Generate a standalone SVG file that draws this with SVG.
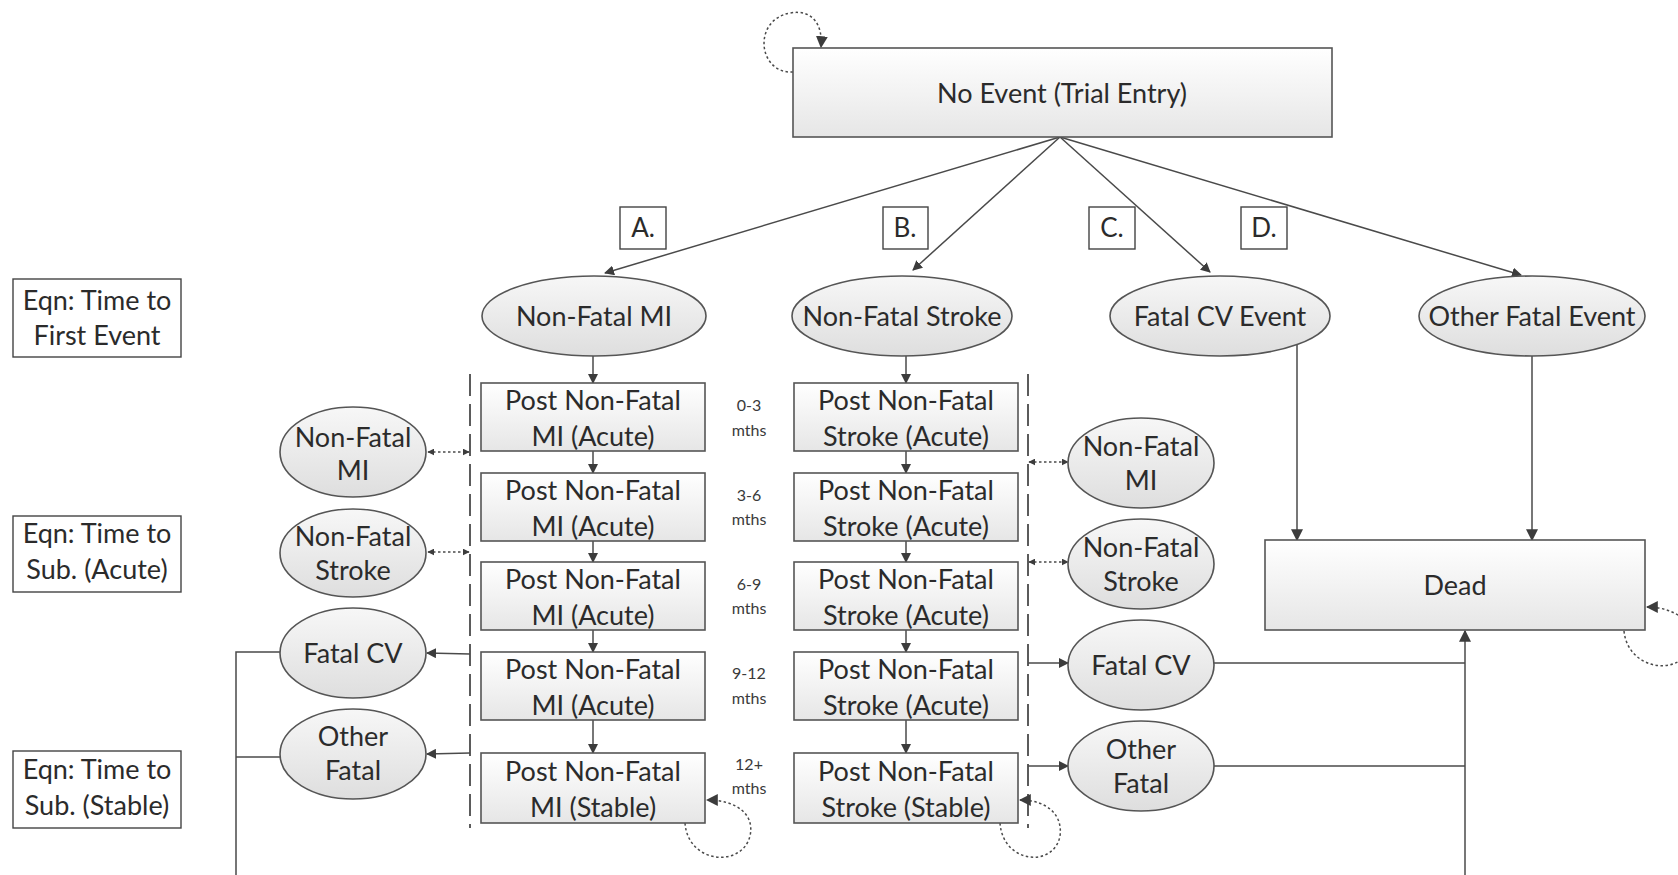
<svg xmlns="http://www.w3.org/2000/svg" width="1678" height="875" viewBox="0 0 1678 875">
<defs>
<linearGradient id="gBox" x1="0" y1="0" x2="0" y2="1"><stop offset="0" stop-color="#ffffff"/><stop offset="1" stop-color="#e6e6e6"/></linearGradient>
<linearGradient id="gEll" x1="0" y1="0" x2="0" y2="1"><stop offset="0" stop-color="#f7f7f7"/><stop offset="1" stop-color="#dedede"/></linearGradient>
<marker id="ar" viewBox="0 0 10 10" refX="9" refY="5" markerWidth="10" markerHeight="10" markerUnits="userSpaceOnUse" orient="auto"><path d="M0,0 L10,5 L0,10 z" fill="#3c3c3c"/></marker>
<marker id="ar2" viewBox="0 0 10 10" refX="9" refY="5" markerWidth="12" markerHeight="12" markerUnits="userSpaceOnUse" orient="auto"><path d="M0,0 L10,5 L0,10 z" fill="#3c3c3c"/></marker>
<marker id="as" viewBox="0 0 10 10" refX="9" refY="5" markerWidth="7" markerHeight="7" markerUnits="userSpaceOnUse" orient="auto-start-reverse"><path d="M0,0 L10,5 L0,10 z" fill="#3c3c3c"/></marker>
</defs>
<style>
.box{fill:url(#gBox);stroke:#555;stroke-width:1.6}
.ell{fill:url(#gEll);stroke:#555;stroke-width:1.6}
.lbl{fill:#fff;stroke:#444;stroke-width:1.4}
.t{font-family:Lato,"Liberation Sans",sans-serif;font-size:27px;fill:#2b2b2b;text-anchor:middle}
.tl{font-family:Lato,"Liberation Sans",sans-serif;font-size:26px;fill:#2b2b2b;text-anchor:middle}
.m{font-family:Lato,"Liberation Sans",sans-serif;font-size:16px;fill:#3a3a3a;text-anchor:middle}
.ln{fill:none;stroke:#4a4a4a;stroke-width:1.5}
.dot{fill:none;stroke:#4a4a4a;stroke-width:1.5;stroke-dasharray:2.5,2.5}
.dsh{fill:none;stroke:#4a4a4a;stroke-width:1.8;stroke-dasharray:22,8}
</style>
<rect width="1678" height="875" fill="#fff"/>

<g id="connectors">
<path class="ln" d="M1060,137 L605,273" marker-end="url(#ar)"/>
<path class="ln" d="M1060,137 L913,270" marker-end="url(#ar)"/>
<path class="ln" d="M1060,137 L1210,272" marker-end="url(#ar)"/>
<path class="ln" d="M1060,137 L1521,275" marker-end="url(#ar)"/>
<path class="ln" d="M593,356 L593,383" marker-end="url(#ar)"/>
<path class="ln" d="M906,356 L906,383" marker-end="url(#ar)"/>
<path class="ln" d="M593,451 L593,473" marker-end="url(#ar)"/>
<path class="ln" d="M593,541 L593,562" marker-end="url(#ar)"/>
<path class="ln" d="M593,630 L593,652" marker-end="url(#ar)"/>
<path class="ln" d="M593,720 L593,753" marker-end="url(#ar)"/>
<path class="ln" d="M906,451 L906,473" marker-end="url(#ar)"/>
<path class="ln" d="M906,541 L906,562" marker-end="url(#ar)"/>
<path class="ln" d="M906,630 L906,652" marker-end="url(#ar)"/>
<path class="ln" d="M906,720 L906,753" marker-end="url(#ar)"/>
<path class="dsh" d="M470,374 L470,828"/>
<path class="dsh" d="M1028,374 L1028,828"/>
<path class="dot" d="M428,452 L469,452" marker-start="url(#as)" marker-end="url(#as)"/>
<path class="dot" d="M428,552 L469,552" marker-start="url(#as)" marker-end="url(#as)"/>
<path class="ln" d="M470,654 L427,653" marker-end="url(#ar)"/>
<path class="ln" d="M470,753 L427,754" marker-end="url(#ar)"/>
<path class="dot" d="M1029,462 L1068,462" marker-start="url(#as)" marker-end="url(#as)"/>
<path class="dot" d="M1029,562 L1068,562" marker-start="url(#as)" marker-end="url(#as)"/>
<path class="ln" d="M1028,663 L1068,663" marker-end="url(#ar)"/>
<path class="ln" d="M1028,766 L1068,766" marker-end="url(#ar)"/>
<path class="ln" d="M280,652 L236,652 L236,875"/>
<path class="ln" d="M280,757 L236,757"/>
<path class="ln" d="M1214,663 L1465,663"/>
<path class="ln" d="M1214,766 L1465,766"/>
<path class="ln" d="M1465,875 L1465,631" marker-end="url(#ar2)"/>
<path class="ln" d="M1297,345 L1297,540" marker-end="url(#ar2)"/>
<path class="ln" d="M1532,356 L1532,540" marker-end="url(#ar2)"/>
<path class="dot" d="M793,72 C758,74 752,20 790,13 C812,9 823,24 821,47" marker-end="url(#ar2)"/>
<path class="dot" d="M685,823 C688,864 742,868 750,836 C755,814 736,800 707,800" marker-end="url(#ar2)"/>
<path class="dot" d="M1000,823 C1003,864 1054,868 1060,836 C1063,814 1046,800 1020,800" marker-end="url(#ar2)"/>
<path class="dot" d="M1624,631 C1628,672 1685,678 1692,642 C1694,620 1672,607 1647,607" marker-end="url(#ar2)"/>
</g>

<g id="no-event"><rect class="box" x="793" y="48" width="539" height="89"/><text class="t" x="1062" y="103">No Event (Trial Entry)</text></g>

<g id="label-a"><rect class="lbl" x="620" y="207" width="46" height="42"/><text class="tl" x="643" y="237">A.</text></g>
<g id="label-b"><rect class="lbl" x="883" y="207" width="45" height="42"/><text class="tl" x="905" y="237">B.</text></g>
<g id="label-c"><rect class="lbl" x="1089" y="207" width="46" height="42"/><text class="tl" x="1112" y="237">C.</text></g>
<g id="label-d"><rect class="lbl" x="1241" y="207" width="46" height="42"/><text class="tl" x="1264" y="237">D.</text></g>

<g id="ell-nfmi"><ellipse class="ell" cx="594" cy="316" rx="112" ry="40"/><text class="t" x="594" y="326">Non-Fatal MI</text></g>
<g id="ell-nfstroke"><ellipse class="ell" cx="902" cy="316" rx="110" ry="40"/><text class="t" x="902" y="326">Non-Fatal Stroke</text></g>
<g id="ell-fcv"><ellipse class="ell" cx="1220" cy="316" rx="110" ry="40"/><text class="t" x="1220" y="326">Fatal CV Event</text></g>
<g id="ell-ofe"><ellipse class="ell" cx="1532" cy="316" rx="113" ry="40"/><text class="t" x="1532" y="326">Other Fatal Event</text></g>

<g id="eqn-first"><rect class="lbl" x="13" y="279" width="168" height="78"/><text class="t" x="97" y="310">Eqn: Time to</text><text class="t" x="97" y="345">First Event</text></g>
<g id="eqn-acute"><rect class="lbl" x="13" y="516" width="168" height="76"/><text class="t" x="97" y="543">Eqn: Time to</text><text class="t" x="97" y="579">Sub. (Acute)</text></g>
<g id="eqn-stable"><rect class="lbl" x="13" y="751" width="168" height="77"/><text class="t" x="97" y="779">Eqn: Time to</text><text class="t" x="97" y="815">Sub. (Stable)</text></g>

<g id="mi-1"><rect class="box" x="481" y="383" width="224" height="68"/><text class="t" x="593" y="410">Post Non-Fatal</text><text class="t" x="593" y="446">MI (Acute)</text></g>
<g id="mi-2"><rect class="box" x="481" y="473" width="224" height="68"/><text class="t" x="593" y="500">Post Non-Fatal</text><text class="t" x="593" y="536">MI (Acute)</text></g>
<g id="mi-3"><rect class="box" x="481" y="562" width="224" height="68"/><text class="t" x="593" y="589">Post Non-Fatal</text><text class="t" x="593" y="625">MI (Acute)</text></g>
<g id="mi-4"><rect class="box" x="481" y="652" width="224" height="68"/><text class="t" x="593" y="679">Post Non-Fatal</text><text class="t" x="593" y="715">MI (Acute)</text></g>
<g id="mi-5"><rect class="box" x="481" y="753" width="224" height="70"/><text class="t" x="593" y="781">Post Non-Fatal</text><text class="t" x="593" y="817">MI (Stable)</text></g>

<g id="st-1"><rect class="box" x="794" y="383" width="224" height="68"/><text class="t" x="906" y="410">Post Non-Fatal</text><text class="t" x="906" y="446">Stroke (Acute)</text></g>
<g id="st-2"><rect class="box" x="794" y="473" width="224" height="68"/><text class="t" x="906" y="500">Post Non-Fatal</text><text class="t" x="906" y="536">Stroke (Acute)</text></g>
<g id="st-3"><rect class="box" x="794" y="562" width="224" height="68"/><text class="t" x="906" y="589">Post Non-Fatal</text><text class="t" x="906" y="625">Stroke (Acute)</text></g>
<g id="st-4"><rect class="box" x="794" y="652" width="224" height="68"/><text class="t" x="906" y="679">Post Non-Fatal</text><text class="t" x="906" y="715">Stroke (Acute)</text></g>
<g id="st-5"><rect class="box" x="794" y="753" width="224" height="70"/><text class="t" x="906" y="781">Post Non-Fatal</text><text class="t" x="906" y="817">Stroke (Stable)</text></g>

<g id="months">
<text class="m" x="749" y="411">0-3</text><text class="m" x="749" y="436">mths</text>
<text class="m" x="749" y="501">3-6</text><text class="m" x="749" y="525">mths</text>
<text class="m" x="749" y="590">6-9</text><text class="m" x="749" y="614">mths</text>
<text class="m" x="749" y="679">9-12</text><text class="m" x="749" y="704">mths</text>
<text class="m" x="749" y="770">12+</text><text class="m" x="749" y="794">mths</text>
</g>

<g id="l-nfmi"><ellipse class="ell" cx="353" cy="452" rx="73" ry="45"/><text class="t" x="353" y="447">Non-Fatal</text><text class="t" x="353" y="480">MI</text></g>
<g id="l-nfst"><ellipse class="ell" cx="353" cy="553" rx="73" ry="44"/><text class="t" x="353" y="546">Non-Fatal</text><text class="t" x="353" y="580">Stroke</text></g>
<g id="l-fcv"><ellipse class="ell" cx="353" cy="653" rx="73" ry="45"/><text class="t" x="353" y="663">Fatal CV</text></g>
<g id="l-of"><ellipse class="ell" cx="353" cy="754" rx="73" ry="45"/><text class="t" x="353" y="746">Other</text><text class="t" x="353" y="780">Fatal</text></g>

<g id="r-nfmi"><ellipse class="ell" cx="1141" cy="463" rx="73" ry="45"/><text class="t" x="1141" y="456">Non-Fatal</text><text class="t" x="1141" y="490">MI</text></g>
<g id="r-nfst"><ellipse class="ell" cx="1141" cy="564" rx="73" ry="45"/><text class="t" x="1141" y="557">Non-Fatal</text><text class="t" x="1141" y="591">Stroke</text></g>
<g id="r-fcv"><ellipse class="ell" cx="1141" cy="665" rx="73" ry="45"/><text class="t" x="1141" y="675">Fatal CV</text></g>
<g id="r-of"><ellipse class="ell" cx="1141" cy="766" rx="73" ry="45"/><text class="t" x="1141" y="759">Other</text><text class="t" x="1141" y="793">Fatal</text></g>

<g id="dead"><rect class="box" x="1265" y="540" width="380" height="90"/><text class="t" x="1455" y="595">Dead</text></g>
</svg>
